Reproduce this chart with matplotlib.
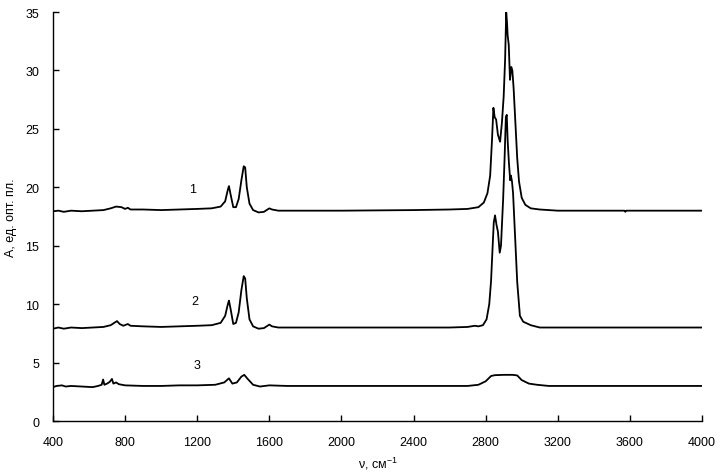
import matplotlib
matplotlib.use('Agg')
import matplotlib.pyplot as plt

plt.rcParams['font.family'] = ['Liberation Sans', 'DejaVu Sans']
plt.rcParams['font.size'] = 9
plt.rcParams['mathtext.default'] = 'regular'

# spectrum 1 (offset ~18)
wn_1 = [400, 430, 460, 500, 560, 620, 680, 720, 750, 780, 800, 815, 830, 900, 1000,
        1100, 1200, 1280, 1330, 1355, 1370, 1376, 1385, 1400, 1415, 1430, 1445, 1458,
        1466, 1475, 1490, 1510, 1540, 1570, 1600, 1615, 1650, 1800, 2000, 2400, 2600,
        2700, 2760, 2790, 2810, 2825, 2835, 2843, 2850, 2858, 2868, 2880, 2890, 2900,
        2908, 2914, 2918, 2922, 2928, 2935, 2942, 2948, 2955, 2965, 2975, 2985, 3000,
        3020, 3050, 3100, 3200, 3570, 3575, 3580, 4000]
a_1 = [17.95, 18.0, 17.9, 18.0, 17.95, 18.0, 18.05, 18.2, 18.35, 18.3, 18.15, 18.25, 18.1,
       18.1, 18.05, 18.1, 18.15, 18.2, 18.35, 18.8, 19.8, 20.1, 19.4, 18.3, 18.3, 19.0,
       20.6, 21.8, 21.7, 20.0, 18.6, 18.05, 17.85, 17.9, 18.2, 18.1, 18.0, 18.0, 18.0,
       18.05, 18.1, 18.15, 18.3, 18.7, 19.5, 21.0, 24.0, 26.8, 26.0, 25.8, 24.5, 23.9,
       25.5, 27.8, 31.0, 35.0, 34.2, 33.0, 32.2, 29.2, 30.3, 30.0, 28.5, 25.5, 22.5,
       20.5, 19.1, 18.5, 18.2, 18.1, 18.0, 18.0, 17.9, 18.0, 18.0]

# spectrum 2 (offset ~8)
wn_2 = [400, 430, 460, 500, 560, 620, 680, 720, 745, 755, 770, 790, 815, 830, 900, 1000,
        1100, 1200, 1280, 1330, 1355, 1370, 1376, 1385, 1400, 1415, 1430, 1445, 1458,
        1466, 1475, 1490, 1510, 1540, 1570, 1600, 1615, 1650, 2000, 2600, 2700, 2740,
        2760, 2785, 2805, 2820, 2830, 2838, 2845, 2852, 2860, 2868, 2878, 2885, 2897,
        2905, 2912, 2917, 2922, 2929, 2936, 2940, 2946, 2952, 2962, 2975, 2990, 3008,
        3050, 3100, 4000]
a_2 = [7.9, 8.0, 7.9, 8.0, 7.95, 8.0, 8.05, 8.2, 8.45, 8.55, 8.3, 8.15, 8.3, 8.15, 8.1,
       8.05, 8.1, 8.15, 8.2, 8.4, 9.0, 10.0, 10.3, 9.6, 8.3, 8.4, 9.3, 11.2, 12.4, 12.2,
       10.5, 8.7, 8.1, 7.9, 7.95, 8.25, 8.1, 8.0, 8.0, 8.0, 8.05, 8.15, 8.1, 8.2, 8.7,
       10.0, 12.0, 14.7, 17.0, 17.6, 16.8, 16.2, 14.4, 15.0, 19.0, 22.5, 26.0, 26.2,
       24.0, 22.1, 20.6, 21.0, 20.5, 19.5, 16.2, 11.9, 9.0, 8.5, 8.2, 8.0, 8.0]

# spectrum 3 (offset ~3)
wn_3 = [400, 420, 450, 470, 500, 560, 620, 650, 670, 678, 685, 700, 715, 727, 735, 750,
        765, 800, 900, 1000, 1100, 1200, 1300, 1350, 1376, 1395, 1420, 1445, 1461, 1480,
        1510, 1548, 1600, 1700, 2600, 2700, 2760, 2800, 2830, 2850, 2900, 2950, 2975,
        3000, 3040, 3085, 3150, 4000]
a_3 = [2.9, 3.0, 3.05, 2.95, 3.0, 2.95, 2.9, 3.0, 3.1, 3.55, 3.1, 3.2, 3.35, 3.6, 3.2,
       3.3, 3.15, 3.05, 3.0, 3.0, 3.05, 3.05, 3.1, 3.3, 3.65, 3.2, 3.3, 3.8, 3.95, 3.6,
       3.1, 2.95, 3.05, 3.0, 3.0, 3.0, 3.1, 3.4, 3.85, 3.92, 3.95, 3.95, 3.9, 3.5, 3.2,
       3.1, 3.0, 3.0]

curve_labels = ['1', '2', '3']
label_x = [1176, 1188, 1199]
label_y = [19.85, 10.27, 4.8]

fig = plt.figure(figsize=(7.24, 4.77), dpi=100)
ax = fig.add_axes([0.0732, 0.1153, 0.8964, 0.8574])

for wn, a in [(wn_1, a_1), (wn_2, a_2), (wn_3, a_3)]:
    ax.plot(wn, a, color='black', linewidth=1.3)

for lab, lx, ly in zip(curve_labels, label_x, label_y):
    ax.text(lx, ly, lab, ha='center', va='center', fontsize=9)

ax.set_xlim(400, 4000)
ax.set_ylim(0, 35)
ax.set_xticks(range(400, 4001, 400))
ax.set_yticks(range(0, 36, 5))
ax.spines['top'].set_visible(False)
ax.spines['right'].set_visible(False)
ax.spines['left'].set_linewidth(1.0)
ax.spines['bottom'].set_linewidth(1.0)
ax.tick_params(axis='x', direction='in', length=4, width=1.0, pad=11)
ax.tick_params(axis='y', direction='in', length=4, width=1.0, pad=10)

ax.set_xlabel('ν, см$^{-1}$', labelpad=5)
ax.set_ylabel('А, ед. опт. пл.', va='center')
ax.yaxis.set_label_coords(-0.065, 0.5)

fig.savefig('out.png', dpi=100)
